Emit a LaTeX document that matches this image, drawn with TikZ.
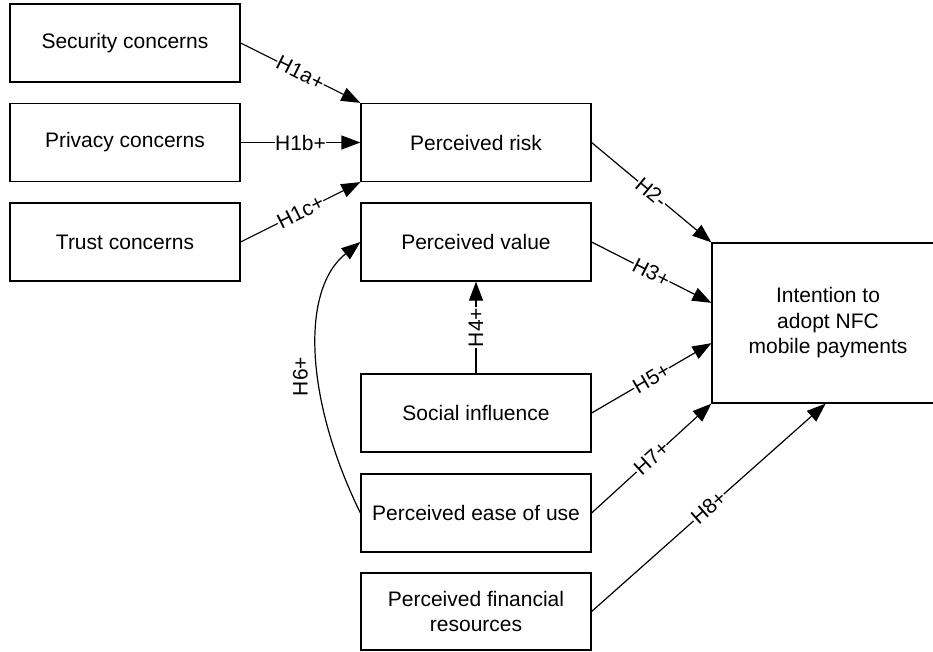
\documentclass[tikz,border=0pt]{standalone}
\usepackage{fontspec}
\setmainfont{Liberation Sans}
\usetikzlibrary{arrows.meta,calc}
\begin{document}
\begin{tikzpicture}[x=1pt,y=-1pt,
  box/.style={draw, line width=1.2pt, minimum width=230pt, minimum height=78pt, inner sep=0pt, align=center, font=\fontsize{21}{25.5}\selectfont},
  conn/.style={line width=1.2pt, -{Triangle[length=19pt,width=14pt]}},
  lab/.style={fill=white, inner sep=0.5pt, font=\fontsize{21}{25}\selectfont, sloped}]
\useasboundingbox (0,0) rectangle (933,651);
\node[box] (sec) at (125,43) {Security concerns};
\node[box] (priv) at (125,142.5) {Privacy concerns};
\node[box] (trust) at (125,242) {Trust concerns};
\node[box] (risk) at (476,142.5) {Perceived risk};
\node[box] (value) at (476,242) {Perceived value};
\node[box] (social) at (476,413) {Social influence};
\node[box] (ease) at (476,513) {Perceived ease of use};
\node[box, minimum height=77pt] (fin) at (476,611.5) {Perceived financial\\resources};
\node[box, minimum width=232pt, minimum height=160pt] (intent) at (828,323) {Intention to\\adopt NFC\\mobile payments};

\draw[conn] (sec.east) -- node[lab]{H1a+} (risk.north west);
\draw[conn] (priv.east) -- node[lab]{H1b+} (risk.west);
\draw[conn] (trust.east) -- node[lab]{H1c+} (risk.south west);
\draw[conn] (risk.east) -- node[lab]{H2-} (intent.north west);
\draw[conn] (value.east) -- node[lab]{H3+} ($(intent.north west)!0.375!(intent.south west)$);
\draw[conn] (social.north) -- node[lab, sloped=false, rotate=90]{H4+} (value.south);
\draw[conn] (social.east) -- node[lab]{H5+} ($(intent.north west)!0.625!(intent.south west)$);
\draw[conn] (ease.east) -- node[lab]{H7+} (intent.south west);
\draw[conn] (fin.east) -- node[lab]{H8+} ($(intent.south west)!0.49!(intent.south east)$);
\draw[conn] (ease.west) .. controls (305,400) and (300,290) .. node[pos=0.42, rotate=90, anchor=south, inner sep=10pt, font=\fontsize{21}{25}\selectfont]{H6+} (value.west);
\end{tikzpicture}
\end{document}
